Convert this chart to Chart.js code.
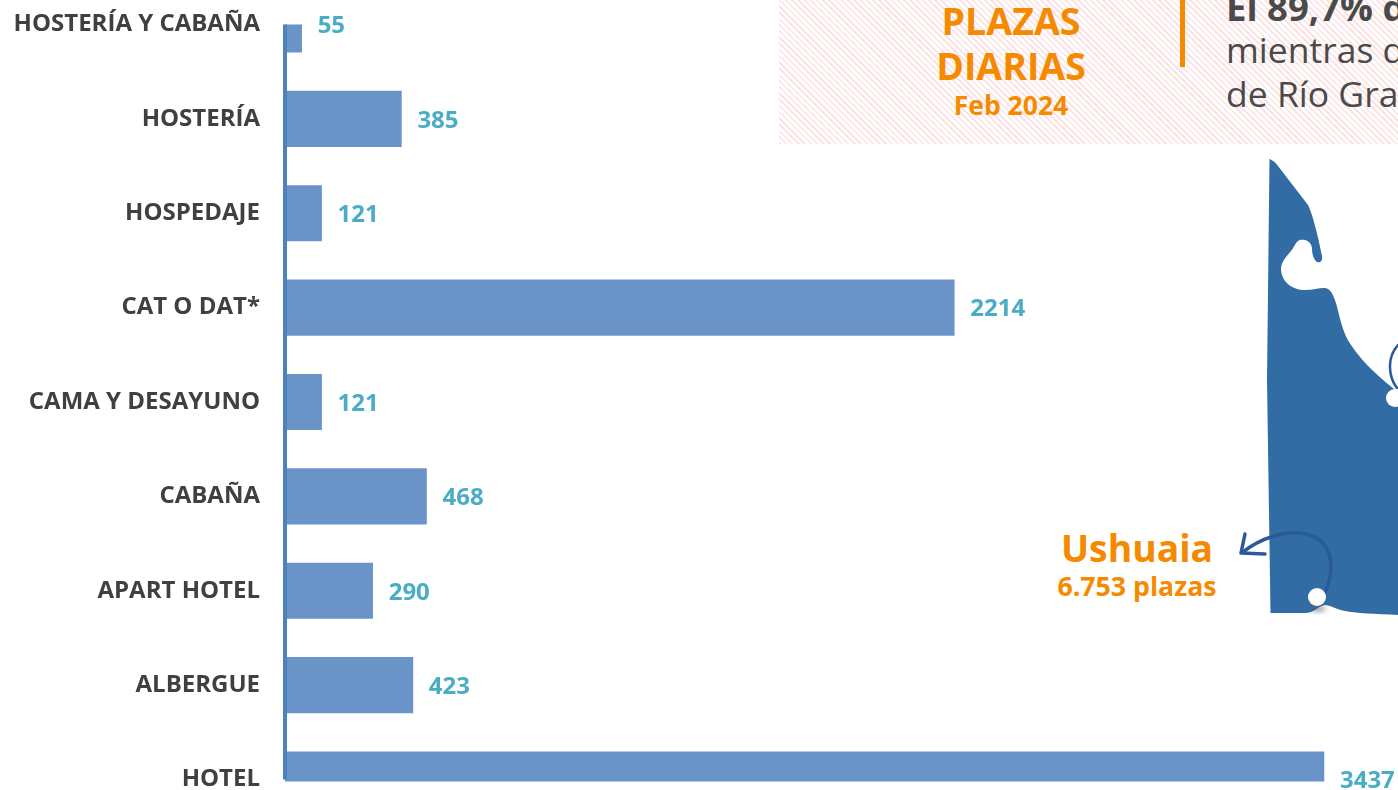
<!DOCTYPE html>
<html lang="es">
<head>
<meta charset="utf-8">
<title>Plazas diarias</title>
<script src="https://cdn.jsdelivr.net/npm/chart.js@4/dist/chart.umd.min.js"></script>
<style>
  html, body { margin: 0; padding: 0; background: #fff; }
  body { position: relative; width: 1398px; height: 790px; overflow: hidden; font-family: "Open Sans", sans-serif; }
  #panel { position: absolute; left: 779px; top: 0; width: 619px; height: 144px;
    background: repeating-linear-gradient(45deg, #fde3e3 0, #fde3e3 1.8px, #fff 1.8px, #fff 4.4px); }
  #rule { position: absolute; left: 1180px; top: 0; width: 5px; height: 67px; background: #f58a00; }
  .t { position: absolute; white-space: nowrap; }
  .c { transform: translateX(-50%); text-align: center; }
  .o { color: #f58a00; font-weight: 700; }
  .g { color: #4a4a4a; font-size: 35.5px; line-height: 44px; left: 1226px; }
  #map { position: absolute; left: 0; top: 0; }
  #chart { position: absolute; left: 0; top: 0; }
</style>
</head>
<body>
<div id="panel"></div>
<div id="rule"></div>
<div class="t c o" style="left:1011px;top:-3px;font-size:37.5px;line-height:48px;">PLAZAS</div>
<div class="t c o" style="left:1011px;top:42px;font-size:37.5px;line-height:48px;">DIARIAS</div>
<div class="t c o" style="left:1011px;top:88px;font-size:26.5px;line-height:34px;">Feb 2024</div>
<div class="t g" style="top:-15px;font-weight:700;font-size:36.5px;">El 89,7% de</div>
<div class="t g" style="top:27px;">mientras que</div>
<div class="t g" style="top:71px;">de Río Grande</div>

<svg id="map" width="1398" height="790" viewBox="0 0 1398 790">
  <defs>
    <filter id="blur" x="-50%" y="-50%" width="200%" height="200%"><feGaussianBlur stdDeviation="2.5"/></filter>
  </defs>
  <path fill="#316da4" d="M1269.5 159 C1273 160 1276 163 1278 166 L1308 205 C1313 215 1319 240 1322 256
    C1323 262 1319 263 1317 262 C1314 260 1312 255 1312 248 C1311 241 1305 239 1300 240
    C1296 241 1295 246 1291 251 C1286 257 1281 262 1281 270 C1282 282 1292 290 1305 290
    C1312 290 1319 288 1324 288 C1331 288 1333 295 1336 303 C1340 317 1342 332 1351 345
    C1362 362 1380 378 1398 392 L1398 615 C1375 614 1355 613 1345 611 C1335 609 1330 605 1325 605
    C1318 606 1314 613 1305 613 L1270.5 613 L1267 380 Z"/>
  <ellipse cx="1318" cy="609" rx="8" ry="3" fill="#555" opacity="0.55" filter="url(#blur)"/>
  <path fill="none" stroke="#2a5a9a" stroke-width="3.5" stroke-linecap="round"
    d="M1325 593 C1335 570 1332 548 1318 539 C1298 526 1265 535 1243 552"/>
  <path fill="none" stroke="#2a5a9a" stroke-width="3.5" stroke-linecap="round" stroke-linejoin="round"
    d="M1245 534 L1241 553 L1265 554"/>
  <path fill="none" stroke="#2a5a9a" stroke-width="2.5" stroke-linecap="round"
    d="M1397 388 C1389 378 1386 358 1398 345"/>
  <circle cx="1317" cy="597" r="9" fill="#fff"/>
  <circle cx="1395" cy="398" r="9" fill="#fff"/>
</svg>

<div class="t c o" style="left:1137px;top:522px;font-size:37.3px;line-height:52px;">Ushuaia</div>
<div class="t c o" style="left:1137px;top:568px;font-size:26.7px;line-height:36px;">6.753 plazas</div>

<canvas id="chart" width="1398" height="790"></canvas>

<script>
const categories = ["HOSTERÍA Y CABAÑA", "HOSTERÍA", "HOSPEDAJE", "CAT O DAT*", "CAMA Y DESAYUNO", "CABAÑA", "APART HOTEL", "ALBERGUE", "HOTEL"];
const plazas = [55, 385, 121, 2214, 121, 468, 290, 423, 3437];

const valueLabels = {
  id: "valueLabels",
  afterDatasetsDraw(chart) {
    const ctx = chart.ctx;
    const meta = chart.getDatasetMeta(0);
    const y = chart.scales.y;
    ctx.save();
    ctx.fillStyle = "#4f81bd";
    ctx.fillRect(y.right - 2, y.top, 4, y.bottom - y.top);
    ctx.font = "700 24px 'Open Sans'";
    ctx.fillStyle = "#4bacc6";
    ctx.textAlign = "left";
    ctx.textBaseline = "middle";
    meta.data.forEach((bar, i) => {
      ctx.fillText(String(plazas[i]), bar.x + 16, bar.y + 2);
    });
    ctx.restore();
  }
};

new Chart(document.getElementById("chart"), {
  type: "bar",
  data: {
    labels: categories,
    datasets: [{
      data: plazas,
      backgroundColor: "#6a94c8",
      borderWidth: 0,
      barThickness: 55.5,
      clip: { left: 0, top: 0, right: 0, bottom: 2 }
    }]
  },
  plugins: [valueLabels],
  options: {
    indexAxis: "y",
    responsive: false,
    animation: false,
    layout: { padding: { left: 0, top: 24.5, right: 0, bottom: 10.5 } },
    plugins: { legend: { display: false }, tooltip: { enabled: false }, title: { display: false } },
    scales: {
      x: { display: false, min: 0, max: 3682, grid: { display: false } },
      y: {
        offset: false,
        grid: { display: false, drawTicks: false },
        border: { display: false },
        afterFit(s) { s.width = 285; s.paddingTop = 0; s.paddingBottom = 0; },
        ticks: {
          autoSkip: false,
          padding: 25,
          color: "#404040",
          font: { family: "'Open Sans'", size: 24, weight: "700" }
        }
      }
    }
  }
});
</script>
</body>
</html>
